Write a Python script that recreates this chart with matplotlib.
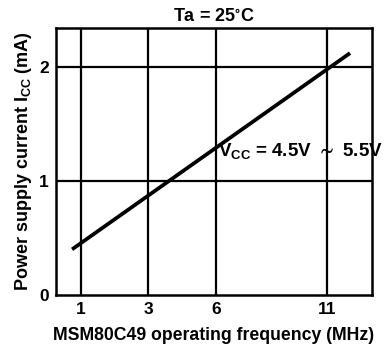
import numpy as np
import matplotlib
matplotlib.use("Agg")
import matplotlib.pyplot as plt

# ----------------------------
# Data
# ----------------------------
freq_ticks = [1, 3, 6, 11]          # MHz
current_ticks = [0, 1, 2]           # mA
line_freq = [0.73, 12.04]           # MHz, ends of the curve
line_current = [0.40, 2.12]         # mA

# ----------------------------
# Uneven frequency axis (as on the data sheet)
# ----------------------------
knot_f = np.array([0.0, 1.0, 3.0, 6.0, 11.0, 14.0])
knot_p = np.array([47.5, 81.0, 148.0, 216.0, 327.0, 393.6])

def fwd(f):
    return np.interp(f, knot_f, knot_p)

def inv(p):
    return np.interp(p, knot_p, knot_f)

plt.rcParams['font.family'] = ['Liberation Sans', 'DejaVu Sans']
plt.rcParams['font.weight'] = 'bold'
plt.rcParams['mathtext.default'] = 'regular'

fig = plt.figure(figsize=(3.85, 3.47), dpi=100)
ax = fig.add_axes([56 / 385, 52 / 347, 316 / 385, 267 / 347])

ax.set_xscale('function', functions=(fwd, inv))
ax.set_xlim(0.25, 13.03)
ax.set_ylim(0, 2.34)

ax.plot(line_freq, line_current, color='black', lw=2.7, solid_capstyle='butt')

ax.set_xticks(freq_ticks)
ax.set_xticklabels([str(v) for v in freq_ticks])
ax.set_yticks(current_ticks)
ax.set_yticklabels([str(v) for v in current_ticks])
ax.tick_params(length=0, labelsize=12.5, pad=5)
for lbl in ax.get_xticklabels() + ax.get_yticklabels():
    lbl.set_fontweight('bold')

for f in freq_ticks:
    ax.axvline(f, color='black', lw=1.6)
for c in current_ticks[1:]:
    ax.axhline(c, color='black', lw=1.6)
for sp in ax.spines.values():
    sp.set_linewidth(1.8)

ax.set_xlabel('MSM80C49 operating frequency (MHz)', fontsize=12.7,
              fontweight='bold', labelpad=7)
ax.set_ylabel(r'Power supply current I$_{CC}$ (mA)', fontsize=13,
              fontweight='bold', labelpad=4)
ax.set_title(r'Ta = 25$^{\circ}$C', fontsize=13, fontweight='bold', pad=5)

ax.text(6.1, 1.26, r'V$_{CC}$ = 4.5V $\sim$ 5.5V', fontsize=13.5,
        fontweight='bold', ha='left', va='center', clip_on=False)

fig.savefig('out.png', dpi=100)
